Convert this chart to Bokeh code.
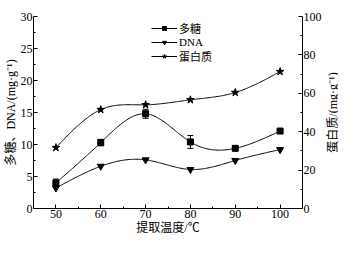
import math
import numpy as np
from bokeh.plotting import figure
from bokeh.models import (LinearAxis, Range1d, FixedTicker, Legend, LegendItem,
                          Whisker, TeeHead, ColumnDataSource, Label)
from bokeh.embed import file_html
from bokeh.resources import INLINE

temps = [50, 60, 70, 80, 90, 100]
polysac = [4.0, 10.3, 14.8, 10.4, 9.4, 12.1]
polysac_err = [0.6, 0.5, 0.7, 1.0, 0.15, 0.15]
dna = [3.2, 6.6, 7.6, 6.1, 7.5, 9.2]
protein = [31.7, 51.5, 54.0, 56.6, 60.4, 71.3]

left_ticks = [0, 5, 10, 15, 20, 25, 30]
right_ticks = [0, 20, 40, 60, 80, 100]
x_ticks = [50, 60, 70, 80, 90, 100]

SERIF = "Liberation Serif, Noto Sans CJK SC"


def natural_spline(xs, ys, n=200):
    x = np.asarray(xs, float)
    y = np.asarray(ys, float)
    k = len(x)
    h = np.diff(x)
    A = np.zeros((k, k))
    b = np.zeros(k)
    A[0, 0] = 1
    A[-1, -1] = 1
    for i in range(1, k - 1):
        A[i, i - 1] = h[i - 1]
        A[i, i] = 2 * (h[i - 1] + h[i])
        A[i, i + 1] = h[i]
        b[i] = 6 * ((y[i + 1] - y[i]) / h[i] - (y[i] - y[i - 1]) / h[i - 1])
    M = np.linalg.solve(A, b)
    xx = np.linspace(x[0], x[-1], n)
    yy = np.empty_like(xx)
    for j, t in enumerate(xx):
        i = min(np.searchsorted(x, t, side="right") - 1, k - 2)
        a, c = x[i], x[i + 1]
        hi = c - a
        yy[j] = (M[i] * (c - t) ** 3 / (6 * hi) + M[i + 1] * (t - a) ** 3 / (6 * hi)
                 + (y[i] / hi - M[i] * hi / 6) * (c - t)
                 + (y[i + 1] / hi - M[i + 1] * hi / 6) * (t - a))
    return xx, yy


p = figure(width=338, height=237, output_backend="svg", toolbar_location=None,
           x_range=Range1d(45, 105), y_range=Range1d(0, 30),
           min_border_left=31, min_border_top=16, min_border_bottom=29,
           min_border_right=32)
p.outline_line_color = None
p.grid.visible = False
p.background_fill_color = "white"
p.border_fill_color = "white"
p.extra_y_ranges = {"right": Range1d(0, 100)}


def style_axis(ax):
    ax.axis_line_color = "black"
    ax.major_tick_line_color = "black"
    ax.minor_tick_line_color = "black"
    ax.major_tick_in = 4
    ax.major_tick_out = 0
    ax.minor_tick_in = 2
    ax.minor_tick_out = 0
    ax.major_label_text_font = SERIF
    ax.major_label_text_font_size = "12px"
    ax.major_label_text_color = "black"
    ax.axis_label_text_font = SERIF
    ax.axis_label_text_font_size = "12px"
    ax.axis_label_text_font_style = "normal"
    ax.axis_label_text_color = "black"
    ax.major_label_standoff = 1
    ax.axis_label_standoff = 0


xa = p.xaxis[0]
xa.ticker = FixedTicker(ticks=x_ticks, minor_ticks=[55, 65, 75, 85, 95, 105])
xa.axis_label = "提取温度/℃"
style_axis(xa)

ya = p.yaxis[0]
ya.ticker = FixedTicker(ticks=left_ticks,
                        minor_ticks=[2.5, 7.5, 12.5, 17.5, 22.5, 27.5])
ya.axis_label = "多糖、DNA/(mg·g⁻¹)"
style_axis(ya)

ra = LinearAxis(y_range_name="right")
ra.ticker = FixedTicker(ticks=right_ticks, minor_ticks=[10, 30, 50, 70, 90])
style_axis(ra)
p.add_layout(ra, "right")

rlabel = Label(x=8, y=96, x_units="screen", y_units="screen",
               text="蛋白质/(mg·g⁻¹)", angle=math.pi / 2, text_align="center",
               text_baseline="middle", text_font=SERIF, text_font_size="12px",
               text_color="black")
p.add_layout(rlabel, "right")

sx, sy = natural_spline(temps, polysac)
l1 = p.line(sx, sy, line_color="black", line_width=1)
dx, dy = natural_spline(temps, dna)
l2 = p.line(dx, dy, line_color="black", line_width=1)
px, py = natural_spline(temps, protein)
l3 = p.line(px, py, line_color="black", line_width=1, y_range_name="right")

src = ColumnDataSource(dict(x=temps, y=polysac,
                            up=[v + e for v, e in zip(polysac, polysac_err)],
                            lo=[v - e for v, e in zip(polysac, polysac_err)]))
w = Whisker(source=src, base="x", upper="up", lower="lo", line_color="black",
            line_width=1,
            upper_head=TeeHead(size=6, line_color="black", line_width=1),
            lower_head=TeeHead(size=6, line_color="black", line_width=1))
p.add_layout(w)

m1 = p.scatter(temps, polysac, marker="square", size=6, color="black")
m2 = p.scatter(temps, dna, marker="inverted_triangle", size=7, color="black")
m3 = p.scatter(temps, protein, marker="star", size=8, color="black",
               y_range_name="right")

legend = Legend(items=[
    LegendItem(label="多糖", renderers=[l1, m1]),
    LegendItem(label="DNA", renderers=[l2, m2]),
    LegendItem(label="蛋白质", renderers=[l3, m3]),
], location=(118, 144))
legend.label_text_font = SERIF
legend.label_text_font_size = "11px"
legend.label_text_line_height = 0.9
legend.label_text_color = "black"
legend.glyph_width = 26
legend.glyph_height = 10
legend.label_height = 10
legend.label_standoff = 2
legend.spacing = 0
legend.padding = 0
legend.margin = 0
legend.border_line_color = None
legend.background_fill_alpha = 0
p.add_layout(legend, "center")

open("out.html", "w").write(file_html(p, INLINE))
